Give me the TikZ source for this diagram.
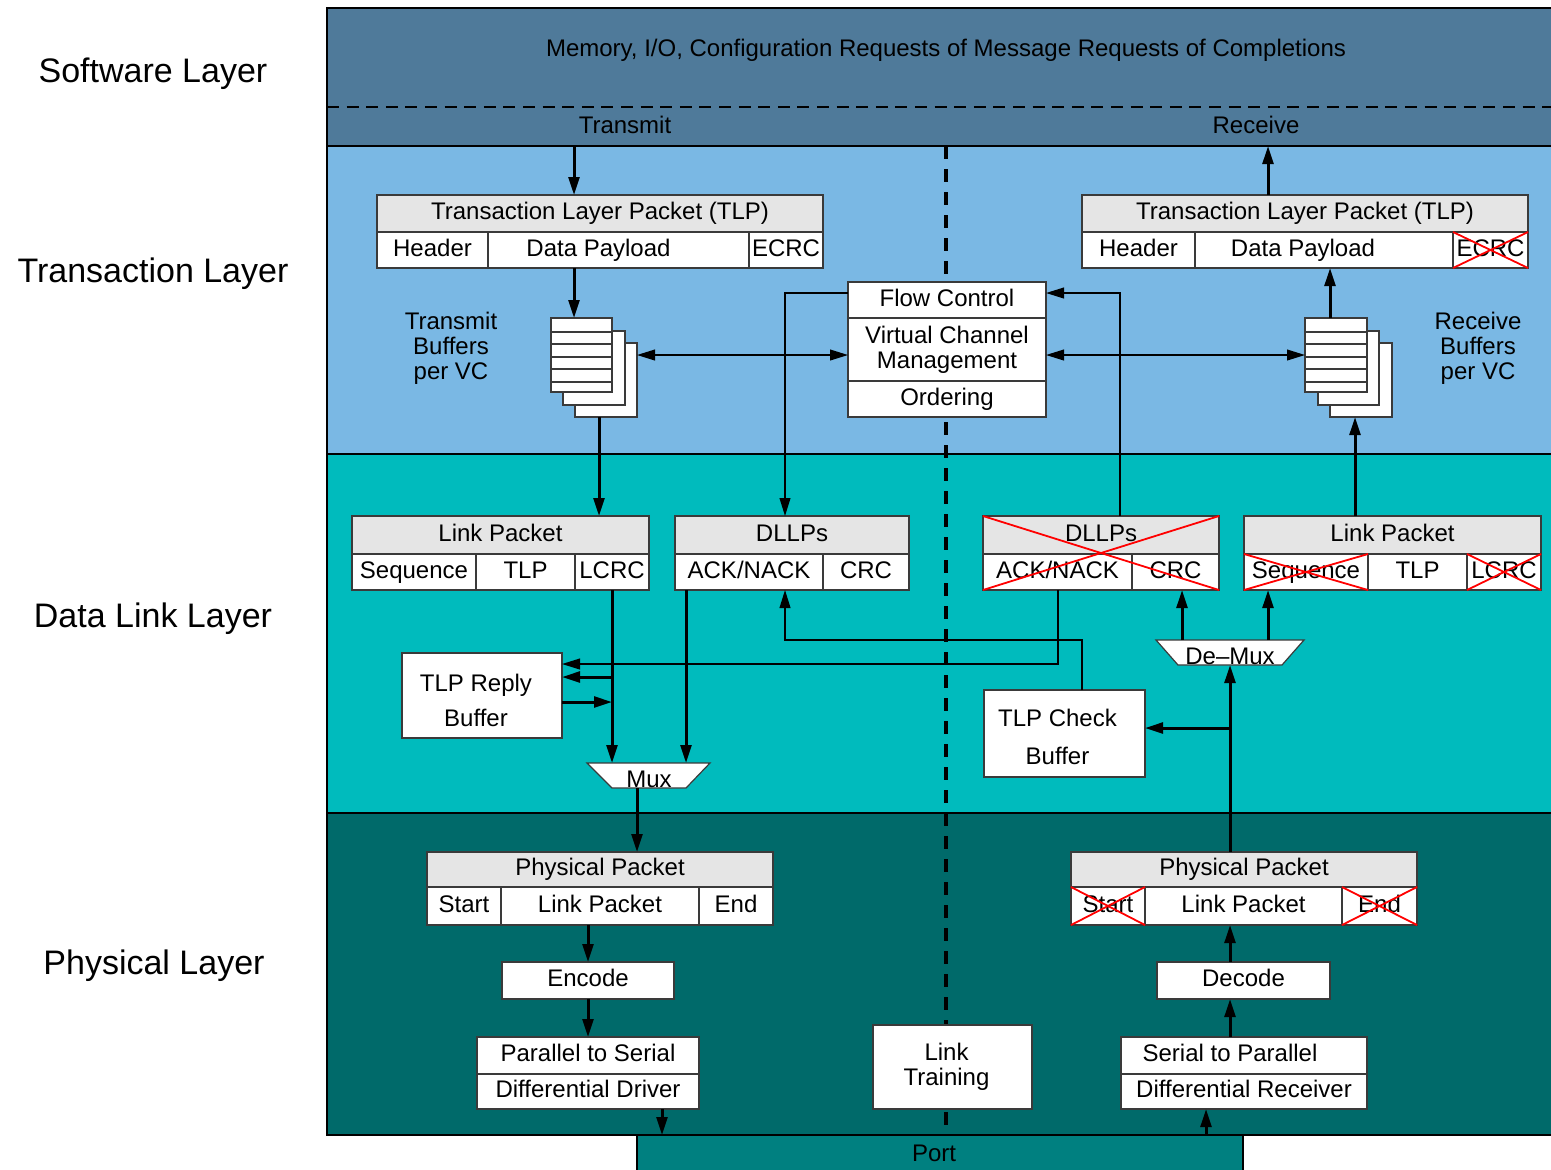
\documentclass[tikz,border=0pt]{standalone}
\usepackage{fontspec}
\setmainfont{Liberation Sans}
\usetikzlibrary{arrows.meta,calc}

\definecolor{swc}{HTML}{4F7A9A}
\definecolor{tlc}{HTML}{7AB8E4}
\definecolor{dlc}{HTML}{00BBBD}
\definecolor{phc}{HTML}{006A6A}
\definecolor{portc}{HTML}{008080}
\definecolor{hdrc}{HTML}{E5E5E5}
\definecolor{edgec}{HTML}{3A3A3A}

\newcommand\boxfont{\fontsize{12}{12.5}\selectfont}
\newcommand\layfont{\fontsize{17}{20}\selectfont}

% rectangular cell given by its corners (in picture units)
\newcommand\pcell[7][sl]{%
  \pgfmathsetmacro\pcw{(#5-#3)*0.5}%
  \pgfmathsetmacro\pch{(#6-#4)*0.5}%
  \node[cellbase,minimum width=\pcw pt,minimum height=\pch pt,#1] (#2) at ({(#3+#5)/2},{(#4+#6)/2}) {#7};}

\begin{document}
\begin{tikzpicture}[x=0.5pt,y=-0.5pt,
  >={Triangle[length=9pt,width=5.4pt]}, line join=miter,
  cellbase/.style={draw=edgec,line width=0.6pt,fill=white,inner sep=0pt,outer sep=0pt,font=\boxfont,align=center},
  sl/.style={text height=8.7pt,text depth=2.5pt},
  ml/.style={},
  hdr/.style={sl,fill=hdrc},
  band/.style={draw=none},
  page/.style={},
  txt/.style={font=\boxfont,inner sep=0pt,align=center},
  lay/.style={font=\layfont,inner sep=0pt,anchor=base},
  thk/.style={line width=1.5pt},
  thn/.style={line width=0.75pt},
  border/.style={line width=1.2pt},
  redx/.style={draw=red,line width=0.9pt},
  vdash/.style={line width=1.6pt,dash pattern=on 6.5pt off 5pt},
  hdash/.style={line width=0.9pt,dash pattern=on 6pt off 3.8pt},
  muxsty/.style={draw=edgec,line width=0.6pt,fill=white}
]
\useasboundingbox (0,0) rectangle (1551,1169);

% ---- layer bands ----
\pcell[band,fill=swc]{sw}{327}{8}{1556}{146}{}
\pcell[band,fill=tlc]{tl}{327}{146}{1556}{454}{}
\pcell[band,fill=dlc]{dl}{327}{454}{1556}{813}{}
\pcell[band,fill=phc]{ph}{327}{813}{1556}{1135}{}
\pcell[band,fill=portc]{port}{637}{1135}{1243}{1175}{}

% transmit / receive split lines
\draw[hdash] (sw.west |- 0,107) -- (sw.east |- 0,107);
\draw[vdash] (tl.north -| 946,0) -- (ph.south -| 946,0);

% layer borders
\draw[border] (sw.north east) -- (sw.north west) -- (ph.south west) -- (ph.south east);
\draw[border] (tl.north west) -- (tl.north east);
\draw[border] (dl.north west) -- (dl.north east);
\draw[border] (ph.north west) -- (ph.north east);
\draw[thn] (port.north west) -- (port.south west);
\draw[thn] (port.north east) -- (port.south east);

% ---- transaction layer ----
\pcell[hdr]{txtlp-t}{377}{195}{823}{232}{Transaction Layer Packet (TLP)}
\pcell{txtlp-h}{377}{232}{488}{268}{Header}
\pcell[label={[txt,sl,xshift=-10pt]center:Data Payload}]{txtlp-p}{488}{232}{749}{268}{}
\pcell{txtlp-e}{749}{232}{823}{268}{ECRC}

\pcell[hdr]{rxtlp-t}{1082}{195}{1528}{232}{Transaction Layer Packet (TLP)}
\pcell{rxtlp-h}{1082}{232}{1195}{268}{Header}
\pcell[label={[txt,sl,xshift=-10.5pt]center:Data Payload}]{rxtlp-p}{1195}{232}{1453}{268}{}
\pcell{rxtlp-e}{1453}{232}{1528}{268}{ECRC}

\pcell{fc}{848}{282}{1046}{318}{Flow Control}
\pcell[ml]{vc}{848}{318}{1046}{381}{Virtual Channel\\Management}
\pcell{ord}{848}{381}{1046}{417}{Ordering}

% stacked buffer pages
\pcell[page]{tbf3}{575}{343}{637}{417}{}
\pcell[page]{tbf2}{563}{331}{625}{405}{}
\pcell[page]{tbf1}{551}{318}{612}{392}{}
\foreach \yy in {332,344,357,369,382}
  \draw[draw=edgec,line width=0.6pt] (tbf1.west |- 0,\yy) -- (tbf1.east |- 0,\yy);
\pcell[page]{rbf3}{1330}{343}{1392}{417}{}
\pcell[page]{rbf2}{1318}{331}{1379}{405}{}
\pcell[page]{rbf1}{1305}{318}{1367}{392}{}
\foreach \yy in {332,344,357,369,382}
  \draw[draw=edgec,line width=0.6pt] (rbf1.west |- 0,\yy) -- (rbf1.east |- 0,\yy);

% ---- data link layer ----
\pcell[hdr]{txlp-t}{352}{516}{649}{554}{Link Packet}
\pcell{txlp-s}{352}{554}{476}{590}{Sequence}
\pcell{txlp-tlp}{476}{554}{575}{590}{TLP}
\pcell{txlp-l}{575}{554}{649}{590}{LCRC}

\pcell[hdr]{txdl-t}{675}{516}{909}{554}{DLLPs}
\pcell{txdl-a}{675}{554}{823}{590}{ACK/NACK}
\pcell{txdl-c}{823}{554}{909}{590}{CRC}

\pcell[hdr]{rxdl-t}{983}{516}{1219}{554}{DLLPs}
\pcell{rxdl-a}{983}{554}{1132}{590}{ACK/NACK}
\pcell{rxdl-c}{1132}{554}{1219}{590}{CRC}

\pcell[hdr]{rxlp-t}{1244}{516}{1541}{554}{Link Packet}
\pcell{rxlp-s}{1244}{554}{1368}{590}{Sequence}
\pcell{rxlp-tlp}{1368}{554}{1467}{590}{TLP}
\pcell{rxlp-l}{1467}{554}{1541}{590}{LCRC}

\pcell[ml,label={[txt,font=\fontsize{12}{17.5}\selectfont,xshift=-3pt,yshift=-2.5pt]center:TLP Reply\\Buffer}]{replybuf}{402}{653}{562}{738}{}
\pcell[ml,label={[txt,font=\fontsize{12}{19}\selectfont,xshift=-3.5pt,yshift=-1.5pt]center:TLP Check\\Buffer}]{checkbuf}{984}{690}{1145}{777}{}

% multiplexer and demultiplexer
\coordinate (mux-tl) at (587,763);
\coordinate (mux-tr) at (710,763);
\coordinate (mux-br) at (686,788);
\coordinate (mux-bl) at (612,788);
\coordinate (mux-out) at (637,788);
\draw[muxsty] (mux-tl) -- (mux-tr) -- (mux-br) -- (mux-bl) -- cycle;
\node[txt] (muxlbl) at (649,779) {Mux};

\coordinate (dm-tl) at (1156,640);
\coordinate (dm-tr) at (1304,640);
\coordinate (dm-br) at (1282,665);
\coordinate (dm-bl) at (1178,665);
\coordinate (dm-in) at (1230,665);
\draw[muxsty] (dm-tl) -- (dm-tr) -- (dm-br) -- (dm-bl) -- cycle;
\node[txt] (dmlbl) at (1230,656) {De--Mux};

% ---- physical layer ----
\pcell[hdr]{txpp-t}{427}{852}{773}{887}{Physical Packet}
\pcell{txpp-s}{427}{887}{501}{925}{Start}
\pcell{txpp-l}{501}{887}{699}{925}{Link Packet}
\pcell{txpp-e}{699}{887}{773}{925}{End}
\pcell{enc}{502}{962}{674}{999}{Encode}
\pcell{p2s-a}{477}{1037}{699}{1074}{Parallel to Serial}
\pcell{p2s-b}{477}{1074}{699}{1109}{Differential Driver}

\pcell[hdr]{rxpp-t}{1071}{852}{1417}{887}{Physical Packet}
\pcell{rxpp-s}{1071}{887}{1145}{925}{Start}
\pcell{rxpp-l}{1145}{887}{1342}{925}{Link Packet}
\pcell{rxpp-e}{1342}{887}{1417}{925}{End}
\pcell{dec}{1157}{962}{1330}{999}{Decode}
\pcell[label={[txt,sl,xshift=-7pt]center:Serial to Parallel}]{s2p-a}{1121}{1037}{1367}{1074}{}
\pcell{s2p-b}{1121}{1074}{1367}{1109}{Differential Receiver}

\pcell[ml,label={[txt,xshift=-3pt]center:Link\\Training}]{lt}{873}{1025}{1032}{1109}{}

% ---- connectors: transmit side ----
\draw[thk,->] (sw.south -| 574,0) -- (txtlp-t.north -| 574,0);
\draw[thk,->] (txtlp-p.south -| 574,0) -- (tbf1.north -| 574,0);
\draw[thk,->] (tbf3.south -| 599,0) -- (txlp-t.north -| 599,0);
\draw[thk,->] (txlp-l.south) -- (txlp-l.south |- mux-tl);
\draw[thk,->] (txdl-a.south -| 686,0) -- (mux-tl -| 686,0);
\draw[thk,->] (txlp-l.south |- 0,677) -- (replybuf.east |- 0,677);
\draw[thk,->] (replybuf.east |- 0,702) -- (txlp-l.south |- 0,702);
\draw[thk,->] (mux-out) -- (txpp-t.north -| mux-out);
\draw[thk,->] (txpp-l.south -| enc.north) -- (enc.north);
\draw[thk,->] (enc.south) -- (p2s-a.north -| enc.south);
\draw[thk,->] (p2s-b.south -| 662,0) -- (port.north -| 662,1145);

% ---- connectors: receive side ----
\draw[thk,->] (port.north -| 1206,1145) -- (s2p-b.south -| 1206,0);
\draw[thk,->] (s2p-a.north -| dm-in) -- (dec.south -| dm-in);
\draw[thk,->] (dec.north -| dm-in) -- (rxpp-l.south -| dm-in);
\draw[thk,->] (rxpp-t.north -| dm-in) -- (dm-in);
\draw[thk,->] (dm-in |- 0,728) -- (checkbuf.east |- 0,728);
\draw[thk,->] (dm-tl -| 1182,0) -- (rxdl-c.south -| 1182,0);
\draw[thk,->] (dm-tl -| 1268,0) -- (rxlp-s.south -| 1268,0);
\draw[thk,->] (rxlp-t.north -| 1355,0) -- (rbf3.south -| 1355,0);
\draw[thk,->] (rbf1.north -| 1330,0) -- (rxtlp-p.south -| 1330,0);
\draw[thk,->] (rxtlp-t.north -| 1268,0) -- (sw.south -| 1268,0);

% ---- connectors: flow control and acknowledgements ----
\draw[thn,<->] (tbf3.east |- 0,355) -- (vc.west |- 0,355);
\draw[thn,<->] (vc.east |- 0,355) -- (rbf1.west |- 0,355);
\draw[thn,->] (fc.west |- 0,293) -| (txdl-t.north -| 785,0);
\draw[thn,->] (rxdl-t.north -| 1120,0) |- (fc.east |- 0,293);
\draw[thn,->] (checkbuf.north -| 1082,0) |- (785,640) -- (txdl-a.south -| 785,0);
\draw[thn,->] (rxdl-a.south -| 1058,0) |- (replybuf.east |- 0,664);

% ---- fields removed on receive ----
\draw[redx] (rxtlp-e.north west) -- (rxtlp-e.south east) (rxtlp-e.south west) -- (rxtlp-e.north east);
\draw[redx] (rxdl-t.north west) -- (rxdl-c.south east) (rxdl-a.south west) -- (rxdl-t.north east);
\draw[redx] (rxlp-s.north west) -- (rxlp-s.south east) (rxlp-s.south west) -- (rxlp-s.north east);
\draw[redx] (rxlp-l.north west) -- (rxlp-l.south east) (rxlp-l.south west) -- (rxlp-l.north east);
\draw[redx] (rxpp-s.north west) -- (rxpp-s.south east) (rxpp-s.south west) -- (rxpp-s.north east);
\draw[redx] (rxpp-e.north west) -- (rxpp-e.south east) (rxpp-e.south west) -- (rxpp-e.north east);

% ---- texts ----
\node[txt] (swtext) at (946,50) {Memory, I/O, Configuration Requests of Message Requests of Completions};
\node[txt] (txlabel) at (625,125) {Transmit};
\node[txt] (rxlabel) at (1256,125) {Receive};
\node[txt] (tbflbl) at (451,348) {Transmit\\Buffers\\per VC};
\node[txt] (rbflbl) at (1478,348) {Receive\\Buffers\\per VC};
\node[txt] (portlbl) at (934,1153) {Port};

\node[lay] (lsw) at (153,82) {Software Layer};
\node[lay] (ltl) at (153,282) {Transaction Layer};
\node[lay] (ldl) at (153,627) {Data Link Layer};
\node[lay] (lph) at (154,974) {Physical Layer};
\end{tikzpicture}
\end{document}
